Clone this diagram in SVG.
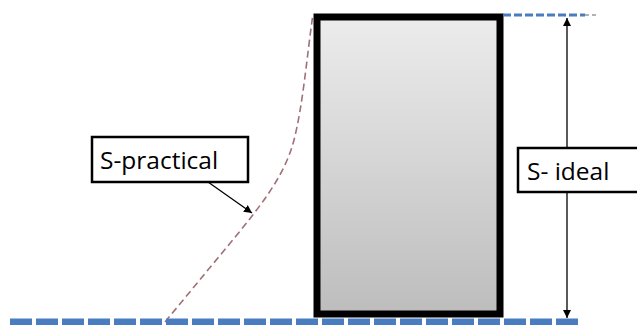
<svg xmlns="http://www.w3.org/2000/svg" width="637" height="325" viewBox="0 0 637 325">
<defs>
<linearGradient id="g" x1="0" y1="0" x2="0" y2="1">
<stop offset="0" stop-color="#ececec"/>
<stop offset="1" stop-color="#bdbdbd"/>
</linearGradient>
<marker id="ah" viewBox="0 0 10 10" refX="10" refY="5" markerWidth="8" markerHeight="8" orient="auto-start-reverse" markerUnits="userSpaceOnUse">
<path d="M0,0 L10,5 L0,10 z" fill="#000"/>
</marker>
</defs>
<style>
.box{fill:#fff;stroke:#000;stroke-width:2.5}
.lbl{font-family:"Open Sans","Liberation Sans",sans-serif;font-size:24.5px;fill:#000}
.conn{fill:none;stroke:#000;stroke-width:1.3}
</style>
<rect width="637" height="325" fill="#fff"/>
<g id="block">
<rect x="317" y="17" width="183" height="297" fill="url(#g)" stroke="#000" stroke-width="7"/>
</g>
<g id="connectors">
<path d="M165,322 L236,236 C262,204 285,175 294,140 C303,105 307,55 313,14" fill="none" stroke="#a07078" stroke-width="1.6" stroke-dasharray="7,4"/>
<line x1="10" y1="322" x2="580" y2="322" stroke="#4a7cc0" stroke-width="7" stroke-dasharray="22,4"/>
<line x1="503" y1="15" x2="585" y2="15" stroke="#4a7cc0" stroke-width="3" stroke-dasharray="8,3"/>
<line x1="585" y1="15" x2="596" y2="15" stroke="#999" stroke-width="1.5" stroke-dasharray="4,3"/>
<line x1="567" y1="18" x2="567" y2="318" class="conn" marker-start="url(#ah)" marker-end="url(#ah)"/>
<line x1="208" y1="182" x2="252" y2="213" class="conn" marker-end="url(#ah)"/>
</g>
<g id="s-practical">
<rect x="92" y="137" width="156" height="45" class="box"/>
<text x="100" y="169" class="lbl">S-practical</text>
</g>
<g id="s-ideal">
<rect x="518" y="148" width="125" height="44" class="box"/>
<text x="527" y="180" class="lbl">S- ideal</text>
</g>
</svg>
